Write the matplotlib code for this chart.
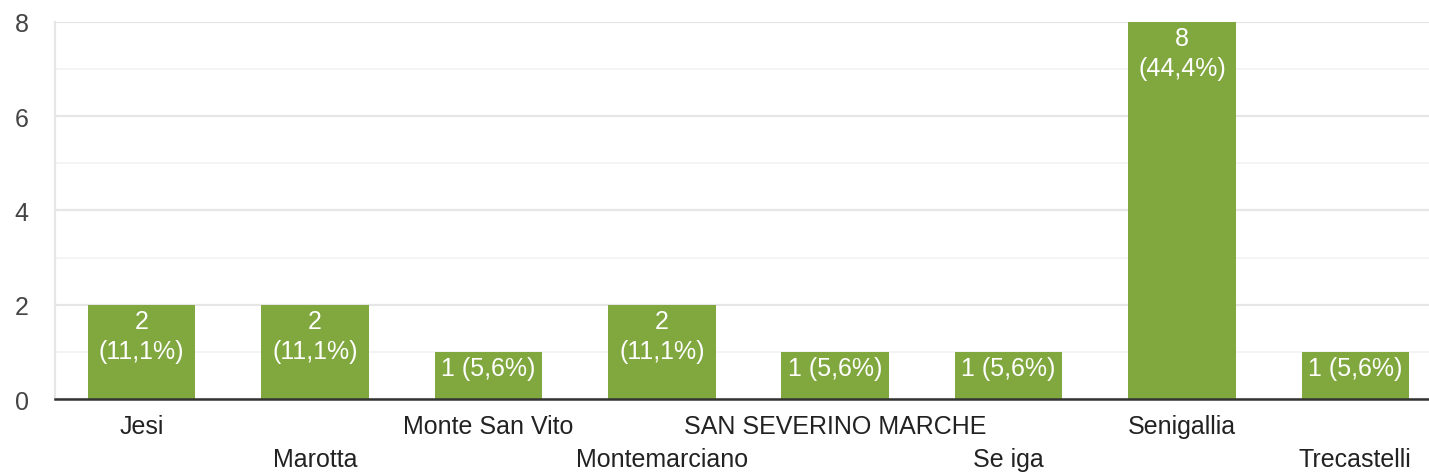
import numpy as np
import matplotlib.pyplot as plt
import matplotlib.transforms as mtransforms

plt.rcParams['font.family'] = ['Liberation Sans', 'DejaVu Sans']

categories = ['Jesi', 'Marotta', 'Monte San Vito', 'Montemarciano',
              'SAN SEVERINO MARCHE', 'Se iga', 'Senigallia', 'Trecastelli']
counts = [2, 2, 1, 2, 1, 1, 8, 1]
labels = ['2\n(11,1%)', '2\n(11,1%)', '1 (5,6%)', '2\n(11,1%)',
          '1 (5,6%)', '1 (5,6%)', '8\n(44,4%)', '1 (5,6%)']

fig = plt.figure(figsize=(14.29, 4.77), dpi=100)
# plot area runs slightly past the right edge of the image, like the original
ax = fig.add_axes([0.0385, 0.1614, 0.9706, 0.7906])

x = np.arange(len(categories))
bars = ax.bar(x, counts, width=0.62, color='#80a83f', zorder=3)

for xi, c, lab in zip(x, counts, labels):
    ax.text(xi, c - 0.08, lab, ha='center', va='top', color='white',
            fontsize=18, linespacing=1.35, zorder=4)

ax.set_xlim(-0.5, len(categories) - 0.5)
ax.set_ylim(0, 8)
ax.set_yticks([0, 2, 4, 6, 8])
ax.set_yticks([1, 3, 5, 7], minor=True)
ax.grid(axis='y', which='major', color='#e6e6e6', linewidth=1.6, zorder=0)
ax.grid(axis='y', which='minor', color='#f2f2f2', linewidth=1.2, zorder=0)

for s in ['top', 'right']:
    ax.spines[s].set_visible(False)
ax.spines['left'].set_color('#e6e6e6')
ax.spines['left'].set_linewidth(1.6)
ax.spines['bottom'].set_color('#333333')
ax.spines['bottom'].set_linewidth(1.8)
ax.spines['bottom'].set_zorder(5)

ax.tick_params(axis='y', which='both', length=0, pad=24, labelsize=18, labelcolor='#444444')
ax.tick_params(axis='x', length=0, pad=11, labelsize=18, labelcolor='#222222')
ax.set_xticks(x)
ax.set_xticklabels(categories)
shift = mtransforms.ScaledTranslation(0, -33 / 100, fig.dpi_scale_trans)
for i, lab in enumerate(ax.get_xticklabels()):
    if i % 2 == 1:
        lab.set_transform(lab.get_transform() + shift)
for lab in ax.get_yticklabels():
    lab.set_horizontalalignment('center')

plt.savefig('out.png', dpi=100)
